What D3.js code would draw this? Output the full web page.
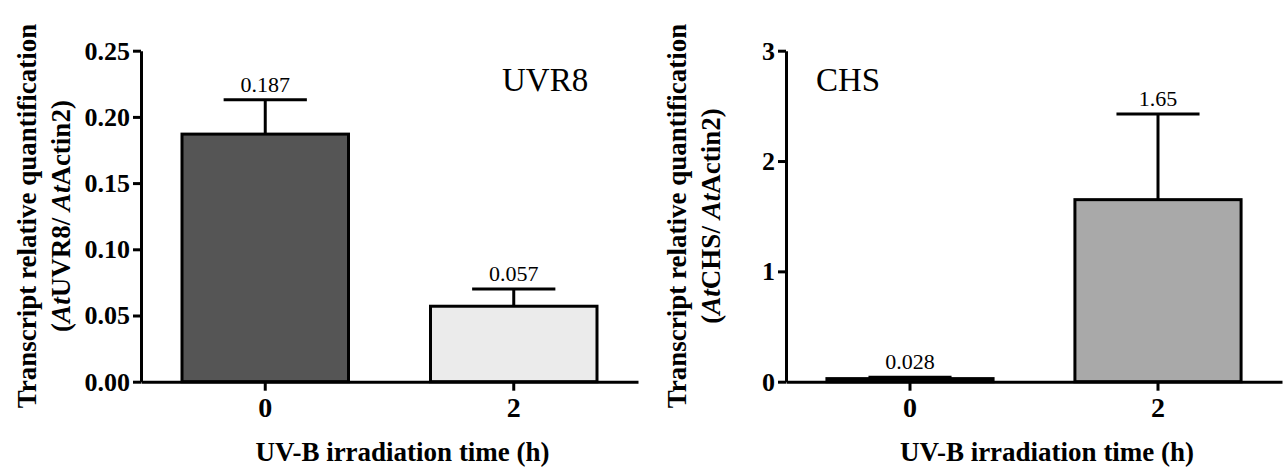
<!doctype html>
<meta charset="utf-8">

<style>
body {
  margin: 0;
  background: #fff;
}
svg {
  display: block;
  font-family: "Liberation Serif", "Times New Roman", serif;
}
.axis .domain,
.axis line {
  stroke: #000;
  stroke-width: 3;
}
.axis text {
  font-family: "Liberation Serif", serif;
  font-weight: bold;
  font-size: 26px;
  fill: #000;
}
.xaxis text {
  font-size: 28px;
}
.bar {
  stroke: #000;
  stroke-width: 3;
}
.err {
  stroke: #000;
  stroke-width: 3;
  fill: none;
}
.value {
  font-size: 22px;
  text-anchor: middle;
}
.gene {
  font-size: 33px;
}
.ytitle, .xtitle {
  font-weight: bold;
  font-size: 27px;
  text-anchor: middle;
}
</style>

<svg id="chart" width="1283" height="469"></svg>

<script src="https://d3js.org/d3.v7.min.js"></script>

<script>
  // categories (UV-B irradiation time, h)
  let times = ["0", "2"];

  // UVR8 panel
  let uvr8Means = [0.187, 0.057];
  let uvr8Errors = [0.026, 0.013];
  let uvr8Colours = ["#555555", "#ebebeb"];
  let uvr8Ticks = [0, 0.05, 0.10, 0.15, 0.20, 0.25];

  // CHS panel
  let chsMeans = [0.028, 1.65];
  let chsErrors = [0.012, 0.776];
  let chsColours = ["#333333", "#a9a9a9"];
  let chsTicks = [0, 1, 2, 3];

  let svg = d3.select("#chart");

  let plotTop = 50.7, plotBottom = 381.7;

  function panel(opts) {
    let g = svg.append("g");

    let x = d3.scaleBand()
      .domain(times)
      .range([opts.left, opts.right])
      .paddingInner(0.33)
      .paddingOuter(0.165);

    let y = d3.scaleLinear()
      .domain([0, d3.max(opts.ticks)])
      .range([plotBottom, plotTop]);

    let rows = times.map((t, i) => ({
      time: t,
      mean: opts.means[i],
      err: opts.errors[i],
      colour: opts.colours[i]
    }));

    // error bars first, so the bar outline sits over the stem
    let cx = d => x(d.time) + x.bandwidth() / 2;
    let capHalf = x.bandwidth() * 0.25;

    g.selectAll(".stem")
      .data(rows)
      .enter()
      .append("line")
      .attr("class", "err")
      .attr("x1", cx)
      .attr("x2", cx)
      .attr("y1", d => y(d.mean))
      .attr("y2", d => y(d.mean + d.err));

    g.selectAll(".cap")
      .data(rows)
      .enter()
      .append("line")
      .attr("class", "err")
      .attr("x1", d => cx(d) - capHalf)
      .attr("x2", d => cx(d) + capHalf)
      .attr("y1", d => y(d.mean + d.err))
      .attr("y2", d => y(d.mean + d.err));

    g.selectAll(".bar")
      .data(rows)
      .enter()
      .append("rect")
      .attr("class", "bar")
      .attr("x", d => x(d.time))
      .attr("width", x.bandwidth())
      .attr("y", d => y(d.mean))
      .attr("height", d => y(0) - y(d.mean))
      .attr("fill", d => d.colour);

    g.selectAll(".value")
      .data(rows)
      .enter()
      .append("text")
      .attr("class", "value")
      .attr("x", cx)
      .attr("y", d => Math.min(y(d.mean + d.err), y(d.mean)) - 8)
      .text(d => String(d.mean));

    g.append("g")
      .attr("class", "axis xaxis")
      .attr("transform", "translate(0," + plotBottom + ")")
      .call(d3.axisBottom(x).tickSize(9).tickSizeOuter(0).tickPadding(6));

    g.append("g")
      .attr("class", "axis")
      .attr("transform", "translate(" + opts.left + ",0)")
      .call(d3.axisLeft(y)
        .tickValues(opts.ticks)
        .tickFormat(opts.format)
        .tickSize(8)
        .tickSizeOuter(0)
        .tickPadding(3));

    g.append("text")
      .attr("class", "gene")
      .attr("x", opts.geneX)
      .attr("y", 91)
      .text(opts.gene);

    g.append("text")
      .attr("class", "xtitle")
      .attr("x", (opts.left + opts.right) / 2 + 13)
      .attr("y", 461)
      .text("UV-B irradiation time (h)");

    let yt = g.append("text")
      .attr("class", "ytitle")
      .attr("transform", "translate(" + opts.titleX + ",216) rotate(-90)");
    yt.append("tspan")
      .attr("x", 0)
      .attr("y", 0)
      .text("Transcript relative quantification");
    let l2 = yt.append("tspan")
      .attr("x", 0)
      .attr("dy", 34);
    l2.append("tspan").text("(");
    l2.append("tspan").attr("font-style", "italic").text("At");
    l2.append("tspan").text(opts.gene + "/ ");
    l2.append("tspan").attr("font-style", "italic").text("At");
    l2.append("tspan").text("Actin2)");
  }

  panel({
    left: 141, right: 638,
    means: uvr8Means, errors: uvr8Errors, colours: uvr8Colours,
    ticks: uvr8Ticks, format: d3.format(".2f"),
    gene: "UVR8", geneX: 502, titleX: 36
  });

  panel({
    left: 786, right: 1282,
    means: chsMeans, errors: chsErrors, colours: chsColours,
    ticks: chsTicks, format: d3.format("d"),
    gene: "CHS", geneX: 816, titleX: 686
  });
</script>
